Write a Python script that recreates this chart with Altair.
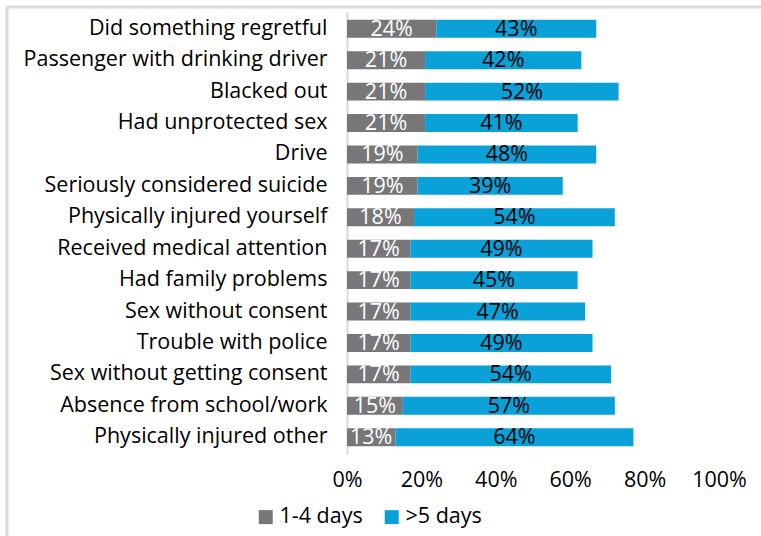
import altair as alt
import pandas as pd

categories = [
    "Did something regretful",
    "Passenger with drinking driver",
    "Blacked out",
    "Had unprotected sex",
    "Drive",
    "Seriously considered suicide",
    "Physically injured yourself",
    "Received medical attention",
    "Had family problems",
    "Sex without consent",
    "Trouble with police",
    "Sex without getting consent",
    "Absence from school/work",
    "Physically injured other",
]
days_1_4 = [24, 21, 21, 21, 19, 19, 18, 17, 17, 17, 17, 17, 15, 13]
days_5_plus = [43, 42, 52, 41, 48, 39, 54, 49, 45, 47, 49, 54, 57, 64]
series = ["1-4 days", ">5 days"]
colors = ["#77777a", "#0aa1d8"]
x_ticks = [0, 20, 40, 60, 80, 100]

rows = []
for c, a, b in zip(categories, days_1_4, days_5_plus):
    rows.append({"cat": c, "series": series[0], "value": a, "ord": 0})
    rows.append({"cat": c, "series": series[1], "value": b, "ord": 1})
df = pd.DataFrame(rows)

FONT = "Open Sans"
FS = 21.5

base = alt.Chart(df).transform_stack(
    stack="value", groupby=["cat"], as_=["start", "end"],
    sort=[alt.SortField("ord", order="ascending")]
).transform_calculate(
    mid="(datum.start + datum.end) / 2",
    label="datum.value + '%'"
)

y_enc = alt.Y("cat:N", sort=categories, title=None,
              scale=alt.Scale(paddingInner=0.43, paddingOuter=0.25),
              axis=alt.Axis(labelFont=FONT, labelFontSize=FS, labelColor="#000000",
                            labelPadding=20, ticks=False, domainColor="#d9d9d9",
                            domainWidth=2, labelLimit=400))

bars = base.mark_bar().encode(
    y=y_enc,
    x=alt.X("start:Q", scale=alt.Scale(domain=[0, 100], nice=False), title=None,
            axis=alt.Axis(values=x_ticks, labelExpr="datum.value + '%'", grid=False,
                          ticks=False, domain=False, labelFont=FONT, labelFontSize=FS,
                          labelColor="#000000", labelPadding=15, labelFlush=False)),
    x2="end:Q",
    color=alt.Color("series:N", scale=alt.Scale(domain=series, range=colors),
                    legend=alt.Legend(title=None, orient="none", direction="horizontal",
                                      legendX=-92, legendY=494, symbolType="square",
                                      symbolSize=196, symbolStrokeWidth=0,
                                      labelFont=FONT, labelFontSize=FS,
                                      labelColor="#000000", columnPadding=18,
                                      labelOffset=3)),
)

texts = base.mark_text(font=FONT, fontSize=FS, baseline="middle", align="center", dy=1).encode(
    y=alt.Y("cat:N", sort=categories),
    x=alt.X("mid:Q"),
    text="label:N",
    color=alt.Color("series:N", scale=alt.Scale(domain=series, range=["#ffffff", "#000000"]),
                    legend=None),
)

frame_top = alt.Chart(pd.DataFrame({"d": [0]})).mark_rule(color="#d9d9d9", strokeWidth=3).encode(
    x=alt.value(-340), x2=alt.value(420), y=alt.value(-5))
frame_left = alt.Chart(pd.DataFrame({"d": [0]})).mark_rule(color="#d9d9d9", strokeWidth=3).encode(
    x=alt.value(-340), y=alt.value(-5), y2=alt.value(530))

chart = alt.layer(frame_top, frame_left, bars, texts).resolve_scale(color="independent").properties(
    width=372, height=442,
    autosize=alt.AutoSizeParams(type="none"),
    padding={"left": 347, "top": 12, "right": 42, "bottom": 82},
).configure_view(stroke=None)

chart.save("out.html", embed_options={"renderer": "svg", "actions": False})
